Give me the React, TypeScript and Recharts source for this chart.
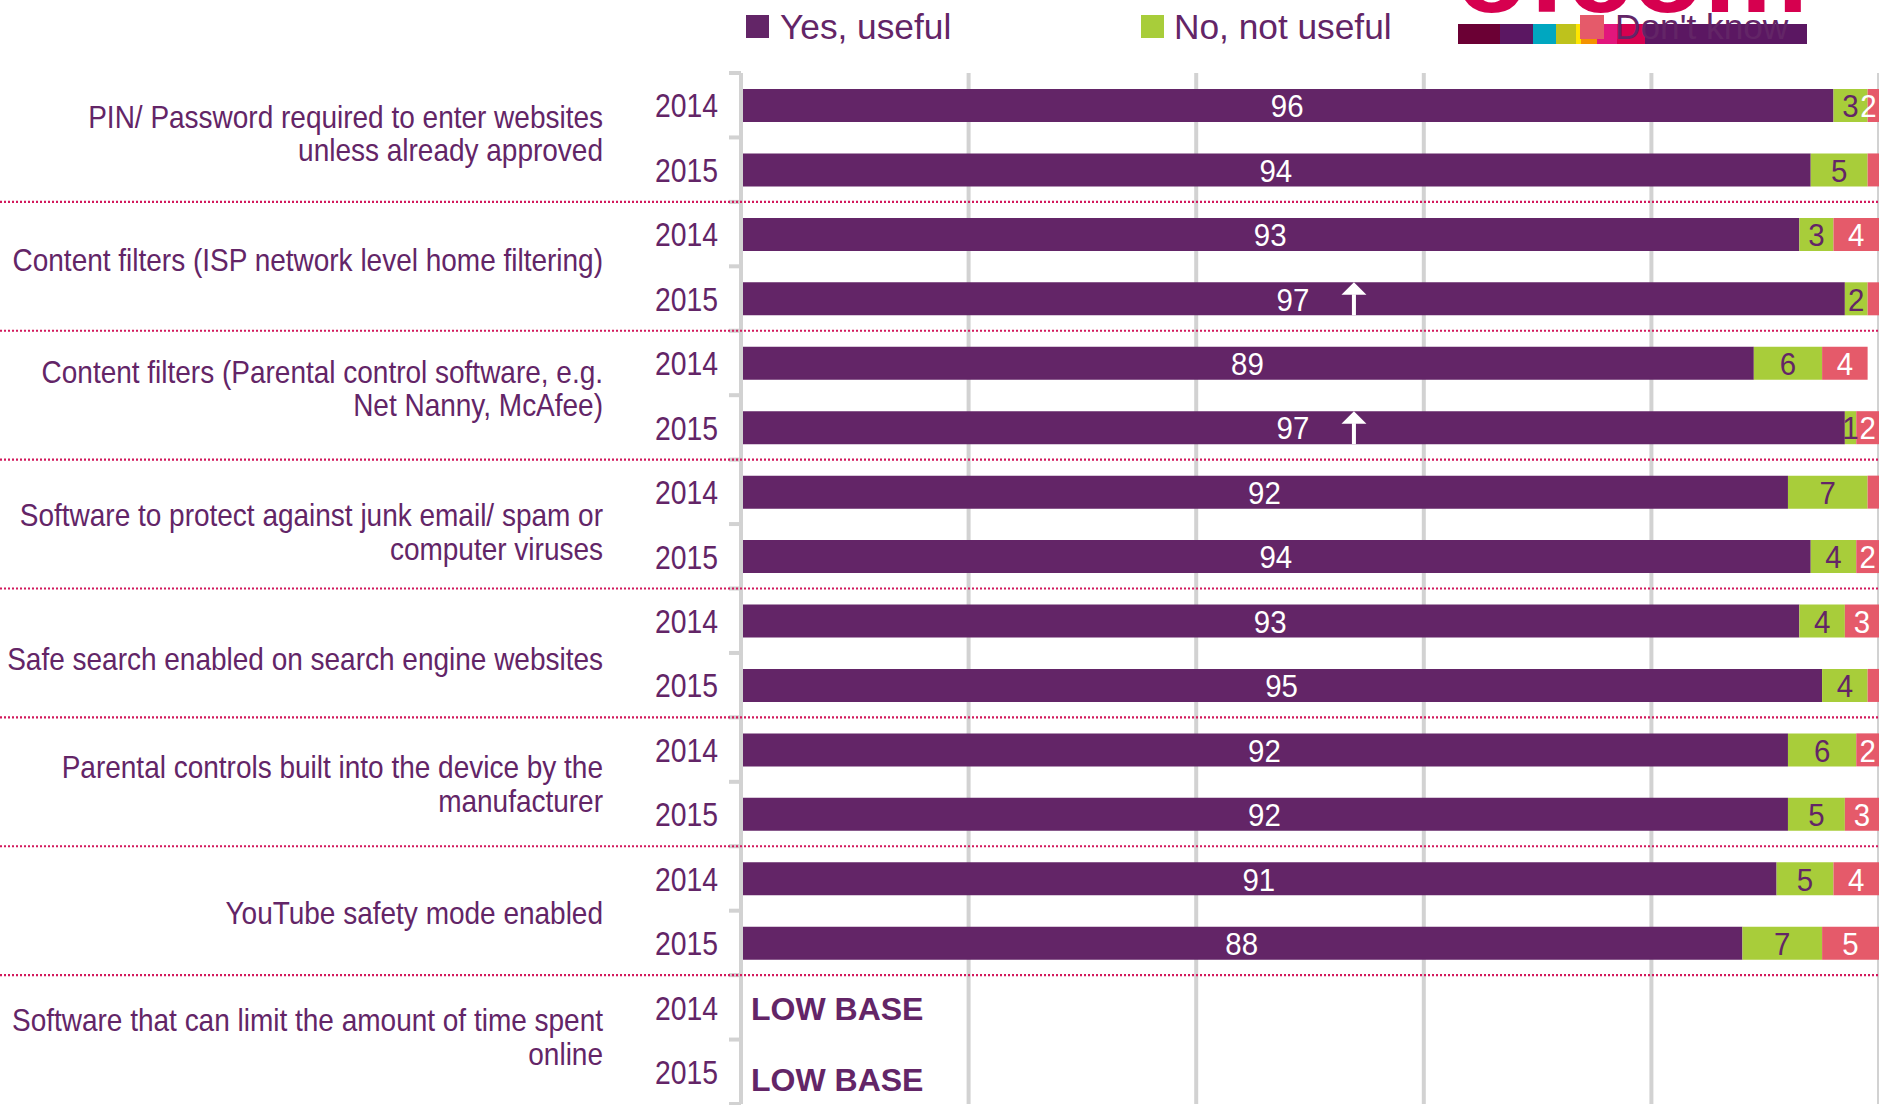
import React from 'react';
import { BarChart, Bar, XAxis, YAxis, CartesianGrid, LabelList } from 'recharts';

// ---------- data ----------
const groupLabels: string[][] = [
  ['PIN/ Password required to enter websites', 'unless already approved'],
  ['Content filters (ISP network level home filtering)'],
  ['Content filters (Parental control software, e.g.', 'Net Nanny, McAfee)'],
  ['Software to protect against junk email/ spam or', 'computer viruses'],
  ['Safe search enabled on search engine websites'],
  ['Parental controls built into the device by the', 'manufacturer'],
  ['YouTube safety mode enabled'],
  ['Software that can limit the amount of time spent', 'online'],
];
const years = ['2014', '2015'];
const yesUseful2014 = [96, 93, 89, 92, 93, 92, 91, null];
const yesUseful2015 = [94, 97, 97, 94, 95, 92, 88, null];
const notUseful2014 = [3, 3, 6, 7, 4, 6, 5, null];
const notUseful2015 = [5, 2, 1, 4, 4, 5, 7, null];
const dontKnow2014 = [2, 4, 4, 1, 3, 2, 4, null];
const dontKnow2015 = [1, 1, 2, 2, 1, 3, 5, null];
const sigIncrease2015 = [false, true, true, false, false, false, false, false];
const lowBaseGroups = [false, false, false, false, false, false, false, true];
const xTicks = [0, 20, 40, 60, 80, 100];
const legendItems = ['Yes, useful', 'No, not useful', "Don't know"];

// ---------- style ----------
const W = 1879;
const H = 1105;
const PURPLE = '#632567';
const GREEN = '#a8cd3a';
const RED = '#e55a6a';
const GRID = '#d2d2d2';
const SEP = '#d2195c';
const FONT = '"Liberation Sans", Arial, Helvetica, sans-serif';
// small vertical nudges of the group labels (layout only)
const labelNudge = [-4, -6, -7, 8, 6, 2, 2, -3];
const lowBaseNudge = [2, 8];

type Row = {
  key: string;
  group: number;
  yearIdx: number;
  year: string;
  yes: number | null;
  no: number | null;
  dk: number | null;
  up: boolean;
  lowBase: boolean;
};

const rows: Row[] = [];
groupLabels.forEach((_, g) => {
  years.forEach((yr, yi) => {
    rows.push({
      key: `${g}-${yr}`,
      group: g,
      yearIdx: yi,
      year: yr,
      yes: yi === 0 ? yesUseful2014[g] : yesUseful2015[g],
      no: yi === 0 ? notUseful2014[g] : notUseful2015[g],
      dk: yi === 0 ? dontKnow2014[g] : dontKnow2015[g],
      up: yi === 1 ? sigIncrease2015[g] : false,
      lowBase: lowBaseGroups[g],
    });
  });
});

const YTick = (props: any) => {
  const { x, y, payload } = props;
  const row = rows.find((r) => r.key === payload.value);
  if (!row) return null;
  const off = payload.offset ?? 32.2;
  const idx = rows.indexOf(row);
  const els: any[] = [];
  els.push(
    <line key="t" x1={x - 12} x2={x} y1={y - off} y2={y - off} stroke={GRID} strokeWidth={4} />
  );
  if (idx === rows.length - 1) {
    els.push(<line key="tb" x1={x - 12} x2={x} y1={y + off} y2={y + off} stroke={GRID} strokeWidth={4} />);
  }
  els.push(
    <text
      key="yr"
      transform={`translate(${x - 23},${y + 1}) scale(0.86,1)`}
      textAnchor="end"
      dominantBaseline="central"
      fontSize={33}
      fill={PURPLE}
      fontFamily={FONT}
    >
      {row.year}
    </text>
  );
  if (row.yearIdx === 0) {
    if (row.group > 0) {
      els.push(
        <line
          key="sep"
          x1={0}
          x2={W}
          y1={y - off}
          y2={y - off}
          stroke={SEP}
          strokeWidth={2.2}
          strokeDasharray="2 2"
        />
      );
    }
    const lines = groupLabels[row.group];
    const lh = 33.6;
    const gc = y + off + labelNudge[row.group];
    lines.forEach((ln, i) => {
      const ly = gc - ((lines.length - 1) * lh) / 2 + i * lh;
      els.push(
        <text
          key={`gl${i}`}
          transform={`translate(${x - 138},${ly}) scale(0.875,1)`}
          textAnchor="end"
          dominantBaseline="central"
          fontSize={32}
          fill={PURPLE}
          fontFamily={FONT}
        >
          {ln}
        </text>
      );
    });
  }
  if (row.lowBase) {
    els.push(
      <text
        key="lb"
        x={x + 10}
        y={y + lowBaseNudge[row.yearIdx]}
        dominantBaseline="central"
        fontSize={32}
        fontWeight="bold"
        fill={PURPLE}
        fontFamily={FONT}
      >
        LOW BASE
      </text>
    );
  }
  return <g>{els}</g>;
};

const makeLabel = (field: 'yes' | 'no' | 'dk', color: string, minVal: number, arrow: boolean) =>
  (props: any) => {
    const idx = props.index;
    const row = rows[idx];
    if (!row) return null;
    const v = row[field];
    if (v == null || v < minVal) return null;
    const vb = props.viewBox || props;
    const pv = props.parentViewBox;
    const rightEdge = pv ? pv.x + pv.width : W;
    const left = vb.x;
    const right = Math.min(vb.x + vb.width, rightEdge);
    const halfText = String(v).length * 8.5;
    let cx = (left + right) / 2;
    if (cx > rightEdge - halfText - 2) cx = rightEdge - halfText - 2;
    const cy = vb.y + vb.height / 2;
    const top = vb.y;
    const bottom = vb.y + vb.height;
    return (
      <g>
        <text
          transform={`translate(${cx},${cy + 1}) scale(0.95,1)`}
          textAnchor="middle"
          dominantBaseline="central"
          fontSize={31}
          fill={color}
          fontFamily={FONT}
        >
          {v}
        </text>
        {arrow && row.up ? (
          <g>
            <polygon
              points={`${cx + 61},${top} ${cx + 73.5},${top + 12.5} ${cx + 48.5},${top + 12.5}`}
              fill="#ffffff"
            />
            <rect x={cx + 59} y={top + 12} width={4} height={bottom - top - 12} fill="#ffffff" />
          </g>
        ) : null}
      </g>
    );
  };

const logoStrip = [
  { x: 1458, w: 42, c: '#6b0034' },
  { x: 1500, w: 33, c: '#5b1762' },
  { x: 1533, w: 23, c: '#00a7c0' },
  { x: 1556, w: 20, c: '#bec21c' },
  { x: 1576, w: 5, c: '#ffe500' },
  { x: 1581, w: 16, c: '#f39200' },
  { x: 1597, w: 20, c: '#e2167c' },
  { x: 1617, w: 28, c: '#d6004f' },
  { x: 1645, w: 162, c: '#5b1762' },
];

export default function App() {
  return (
    <div
      style={{
        position: 'absolute',
        left: 0,
        top: 0,
        width: W,
        height: H,
        overflow: 'hidden',
        background: '#ffffff',
        fontFamily: FONT,
      }}
    >
      <BarChart
        width={W}
        height={H}
        data={rows}
        layout="vertical"
        margin={{ top: 73, right: 0, bottom: 1, left: 0 }}
        barSize={33}
      >
        <CartesianGrid horizontal={false} stroke={GRID} strokeWidth={4} />
        <XAxis type="number" domain={[0, 100]} ticks={xTicks} hide allowDataOverflow />
        <YAxis
          type="category"
          dataKey="key"
          width={741}
          interval={0}
          tickSize={0}
          tickMargin={0}
          tickLine={false}
          axisLine={{ stroke: GRID, strokeWidth: 4 }}
          tick={<YTick />}
        />
        <Bar dataKey="yes" stackId="s" fill={PURPLE} isAnimationActive={false}>
          <LabelList dataKey="yes" content={makeLabel('yes', '#ffffff', 1, true)} />
        </Bar>
        <Bar dataKey="no" stackId="s" fill={GREEN} isAnimationActive={false}>
          <LabelList dataKey="no" content={makeLabel('no', PURPLE, 1, false)} />
        </Bar>
        <Bar dataKey="dk" stackId="s" fill={RED} isAnimationActive={false}>
          <LabelList dataKey="dk" content={makeLabel('dk', '#ffffff', 2, false)} />
        </Bar>
      </BarChart>
      <svg
        width={W}
        height={70}
        style={{ position: 'absolute', left: 0, top: 0, pointerEvents: 'none' }}
      >
        <text
          x={1456}
          y={12}
          fontSize={112}
          fontWeight="bold"
          fill="#d6004f"
          fontFamily={FONT}
          textLength={352}
          lengthAdjust="spacingAndGlyphs"
        >
          ofcom
        </text>
        {logoStrip.map((s, i) => (
          <rect key={i} x={s.x} y={24} width={s.w} height={20} fill={s.c} />
        ))}
        <rect x={746} y={15} width={23} height={23} fill={PURPLE} />
        <text transform="translate(780,39) scale(0.98,1)" fontSize={36} fill={PURPLE} fontFamily={FONT}>
          {legendItems[0]}
        </text>
        <rect x={1141} y={15} width={23} height={23} fill={GREEN} />
        <text transform="translate(1174,39) scale(0.98,1)" fontSize={36} fill={PURPLE} fontFamily={FONT}>
          {legendItems[1]}
        </text>
        <rect x={1580} y={15} width={24} height={24} fill={RED} />
        <text transform="translate(1615,39) scale(0.98,1)" fontSize={36} fill={PURPLE} fontFamily={FONT}>
          {legendItems[2]}
        </text>
      </svg>
    </div>
  );
}
